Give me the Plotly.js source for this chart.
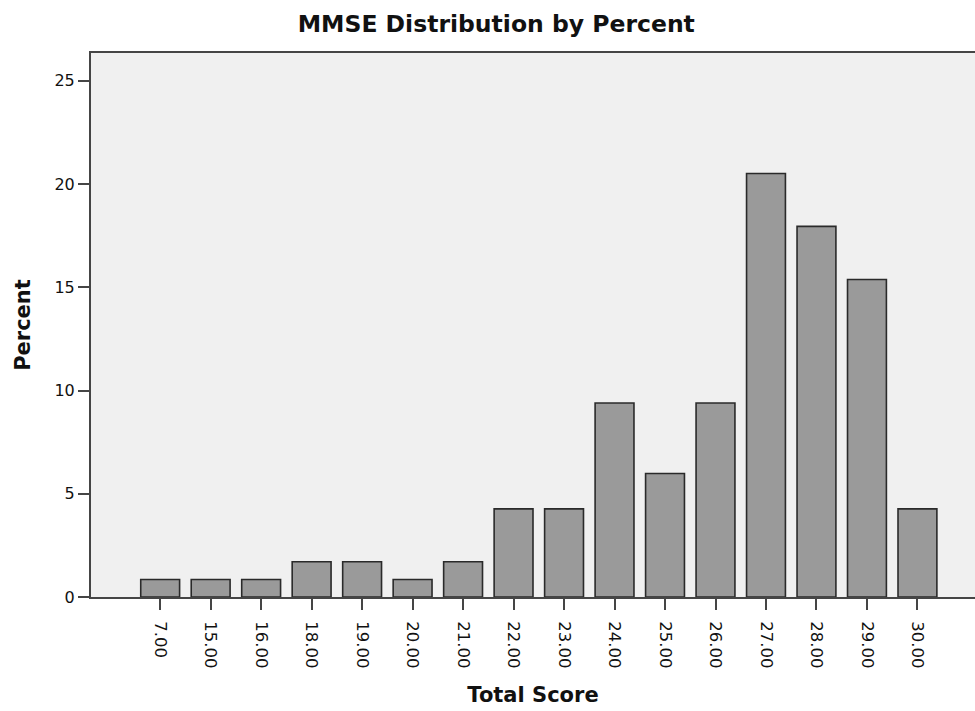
<!DOCTYPE html>
<html>
<head>
<meta charset="utf-8">
<script src="https://cdn.plot.ly/plotly-3.0.1.min.js"></script>
<style>html,body{margin:0;padding:0;background:#fff;}#chart{width:975px;height:711px;}</style>
</head>
<body>
<div id="chart"></div>
<script>
const categories = ["7.00","15.00","16.00","18.00","19.00","20.00","21.00","22.00","23.00","24.00","25.00","26.00","27.00","28.00","29.00","30.00"];
const percents = [0.85,0.85,0.85,1.71,1.71,0.85,1.71,4.27,4.27,9.40,5.98,9.40,20.51,17.95,15.38,4.27];
const yTicks = [0,5,10,15,20,25];

const trace = {
  type: "bar",
  x: categories,
  y: percents,
  marker: {color: "#9a9a9a", line: {color: "#2a2a2a", width: 1.6}},
  hoverinfo: "x+y"
};

const boldFont = "DejaVu Sans, sans-serif";
const layout = {
  width: 975, height: 711,
  margin: {l: 91, r: 0, t: 53, b: 114},
  paper_bgcolor: "#ffffff",
  plot_bgcolor: "#f0f0f0",
  bargap: 0.23,
  showlegend: false,
  title: {
    text: "<b>MMSE Distribution by Percent</b>",
    x: 0.509, xref: "container", xanchor: "center",
    y: 0.966, yref: "container", yanchor: "middle",
    font: {family: boldFont, size: 23.5, color: "#111"}
  },
  xaxis: {
    type: "category",
    range: [-1.37, 16.14],
    showline: true, linecolor: "#454545", linewidth: 2, mirror: true,
    ticks: "outside", ticklen: 11, tickwidth: 2, tickcolor: "#454545",
    tickangle: 90,
    ticklabelstandoff: 8,
    tickfont: {family: "DejaVu Sans, sans-serif", size: 16.5, color: "#111"},
    showgrid: false, zeroline: false,
    title: {text: "<b>Total Score</b>", font: {family: boldFont, size: 21, color: "#111"}, standoff: 20}
  },
  yaxis: {
    range: [0, 26.35],
    tickvals: yTicks,
    ticktext: yTicks.map(String),
    showline: true, linecolor: "#454545", linewidth: 2,
    ticks: "outside", ticklen: 11, tickwidth: 2, tickcolor: "#454545",
    tickfont: {family: "DejaVu Sans, sans-serif", size: 16, color: "#111"},
    showgrid: false, zeroline: false,
    title: {text: "<b>Percent</b>", font: {family: boldFont, size: 21, color: "#111"}, standoff: 18}
  }
};

Plotly.newPlot("chart", [trace], layout, {displayModeBar: false, staticPlot: true});
</script>
</body>
</html>
